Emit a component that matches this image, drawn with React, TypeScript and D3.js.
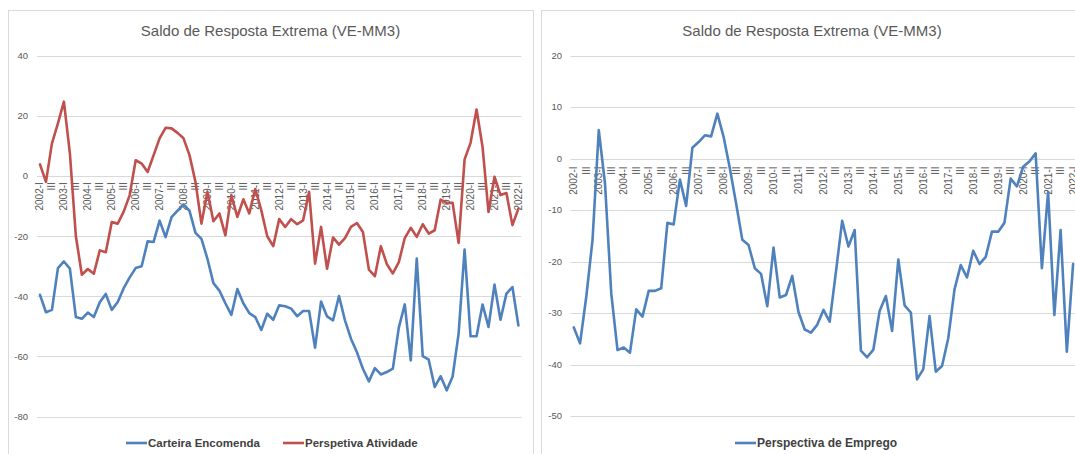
import React from "react";
import * as d3 from "d3";

const years = d3.range(2002, 2023);
const quarterNames = ["I", "II", "III", "IV"];
const categories: string[] = [];
years.forEach((y) =>
  quarterNames.forEach((q) => {
    if (y < 2022 || q === "I") categories.push(q === "I" ? `${y}-I` : q);
  })
);

const carteiraEncomenda = [
  -39.5, -45.3, -44.5, -30.6, -28.4, -30.8, -46.9, -47.5, -45.4, -46.9,
  -42, -39.2, -44.5, -41.9, -37.3, -33.7, -30.6, -30.0, -21.7, -21.9,
  -14.8, -20.3, -13.6, -11.5, -9.5, -11.5, -18.9, -20.9, -27.5, -35.6,
  -38.1, -42.3, -46.2, -37.6, -42.3, -45.6, -46.9, -51.2, -45.8, -47.8,
  -43, -43.3, -44.1, -46.6, -44.9, -44.9, -57.1, -41.7, -46.7, -48,
  -39.9, -48, -54.1, -58.6, -64.1, -68.3, -63.9, -66, -65.2, -64.1,
  -50.4, -42.7, -61.3, -27.4, -59.9, -61.1, -70.2, -66.6, -71.3, -66.7,
  -52.4, -24.4, -53.3, -53.3, -42.7, -50.2, -36.1, -47.8, -39.1, -36.9,
  -49.7,
];

const perspetivaAtividade = [
  3.9, -1.9, 10.9, 17.6, 24.8, 7.6, -20, -32.8, -30.9, -32.5,
  -24.7, -25.3, -15.3, -15.8, -11.8, -6.3, 5.3, 4.2, 1.4, 7,
  12.6, 16.1, 15.9, 14.4, 12.6, 7, -1.9, -15.8, -5.2, -15,
  -12.4, -19.7, -6.3, -13.6, -7.7, -12.4, -4.3, -11.3, -20, -23.3,
  -14.3, -16.9, -14.3, -16, -14.7, -5.2, -29.1, -16.9, -30.8, -20.4,
  -22.8, -20.6, -16.9, -15.6, -18.6, -31.1, -33.3, -23.3, -29.3, -32.4,
  -28.6, -20.6, -17.2, -20.2, -16, -19.1, -18, -7.8, -8.9, -8.9,
  -22.2, 5.6, 11.1, 22.2, 9.8, -11.9, -0.2, -6.3, -5.6, -16.3,
  -10.8,
];

const perspetivaEmprego = [
  -32.8, -35.9, -26.8, -15.8, 5.5, -4.9, -26.2, -37.2, -36.7, -37.7,
  -29.3, -30.7, -25.7, -25.7, -25.2, -12.5, -12.8, -4.1, -9.2, 2.1,
  3.2, 4.5, 4.3, 8.7, 4.2, -1.9, -8.7, -15.8, -16.8, -21.3,
  -22.4, -28.7, -17.3, -27, -26.5, -22.8, -29.8, -33.2, -33.8, -32.3,
  -29.4, -31.7, -22, -12.1, -17.1, -13.9, -37.3, -38.6, -37.1, -29.6,
  -26.7, -33.5, -19.6, -28.5, -29.9, -42.9, -40.9, -30.6, -41.4, -40.3,
  -34.9, -25.4, -20.7, -23.1, -17.9, -20.5, -19.1, -14.2, -14.2, -12.5,
  -3.9, -5.4, -1.6, -0.6, 1, -21.3, -6.5, -30.4, -13.9, -37.5,
  -20.5,
];

const leftTicks = [40, 20, 0, -20, -40, -60, -80];
const rightTicks = [20, 10, 0, -10, -20, -30, -40, -50];

const title = "Saldo de Resposta Extrema (VE-MM3)";
const BLUE = "#4F81BD";
const RED = "#C0504D";
const GRID = "#D9D9D9";
const TXT = "#595959";
const FONT = "'Liberation Sans', Arial, sans-serif";

type Series = { name: string; values: number[]; color: string; legendX: number };

function Panel(props: {
  px: number; pw: number;
  x0: number; x1: number; y0: number; y1: number;
  domain: [number, number]; ticks: number[];
  series: Series[];
  labelOffset: number; tickLabelX: number;
  legendFont: number;
}) {
  const { px, pw, x0, x1, y0, y1, domain, ticks, series, labelOffset, tickLabelX, legendFont } = props;
  const n = categories.length;
  const x = d3.scaleLinear().domain([-0.5, n - 0.5]).range([x0, x1]);
  const y = d3.scaleLinear().domain(domain).range([y1, y0]);
  const line = d3
    .line<number>()
    .x((_, i) => x(i))
    .y((d) => y(d));
  return (
    <g>
      <rect x={px + 0.5} y={10.5} width={pw} height={470} fill="#fff" stroke={GRID} strokeWidth={1} />
      <text x={px + pw / 2} y={36} textAnchor="middle" fontFamily={FONT} fontSize={15} fill={TXT}>
        {title}
      </text>
      {ticks.map((t) => (
        <g key={t}>
          <line x1={x0} x2={x1} y1={Math.round(y(t)) + 0.5} y2={Math.round(y(t)) + 0.5} stroke={GRID} strokeWidth={1} />
          <text x={tickLabelX} y={y(t)} dy="0.35em" textAnchor="end" fontFamily={FONT} fontSize={9.5} fill={TXT}>
            {t}
          </text>
        </g>
      ))}
      {categories.map((c, i) =>
        i % 2 === 0 ? (
          <text
            key={i}
            transform={`translate(${x(i)},${y(0) + labelOffset}) rotate(-90)`}
            dy="0.35em"
            textAnchor="end"
            fontFamily={FONT}
            fontSize={10}
            fill={TXT}
          >
            {c}
          </text>
        ) : null
      )}
      <clipPath id={`clip${px}`}>
        <rect x={px} y={10} width={pw} height={450} />
      </clipPath>
      <g clipPath={`url(#clip${px})`}>
        {series.map((s) => (
          <path key={s.name} d={line(s.values) || ""} fill="none" stroke={s.color} strokeWidth={2.6} strokeLinejoin="round" strokeLinecap="round" />
        ))}
      </g>
      {series.map((s) => (
        <g key={s.name}>
          <line x1={s.legendX} x2={s.legendX + 21} y1={443} y2={443} stroke={s.color} strokeWidth={2.6} />
          <text x={s.legendX + 22} y={443} dy="0.35em" fontFamily={FONT} fontSize={legendFont} fontWeight="bold" fill="#404040">
            {s.name}
          </text>
        </g>
      ))}
    </g>
  );
}

export default function App() {
  return (
    <svg
      width={1075}
      height={454}
      style={{ position: "absolute", left: 0, top: 0, display: "block", background: "#fff" }}
    >
      <Panel
        px={8} pw={525}
        x0={37} x1={521.4} y0={56} y1={416.5}
        domain={[-80, 40]} ticks={leftTicks}
        series={[
          { name: "Carteira Encomenda", values: carteiraEncomenda, color: BLUE, legendX: 126 },
          { name: "Perspetiva Atividade", values: perspetivaAtividade, color: RED, legendX: 283 },
        ]}
        labelOffset={6} tickLabelX={28}
        legendFont={11.5}
      />
      <Panel
        px={541} pw={542}
        x0={570.7} x1={1076.2} y0={55.5} y1={416}
        domain={[-50, 20]} ticks={rightTicks}
        series={[{ name: "Perspectiva de Emprego", values: perspetivaEmprego, color: BLUE, legendX: 735 }]}
        labelOffset={8} tickLabelX={562}
        legendFont={12}
      />
    </svg>
  );
}
